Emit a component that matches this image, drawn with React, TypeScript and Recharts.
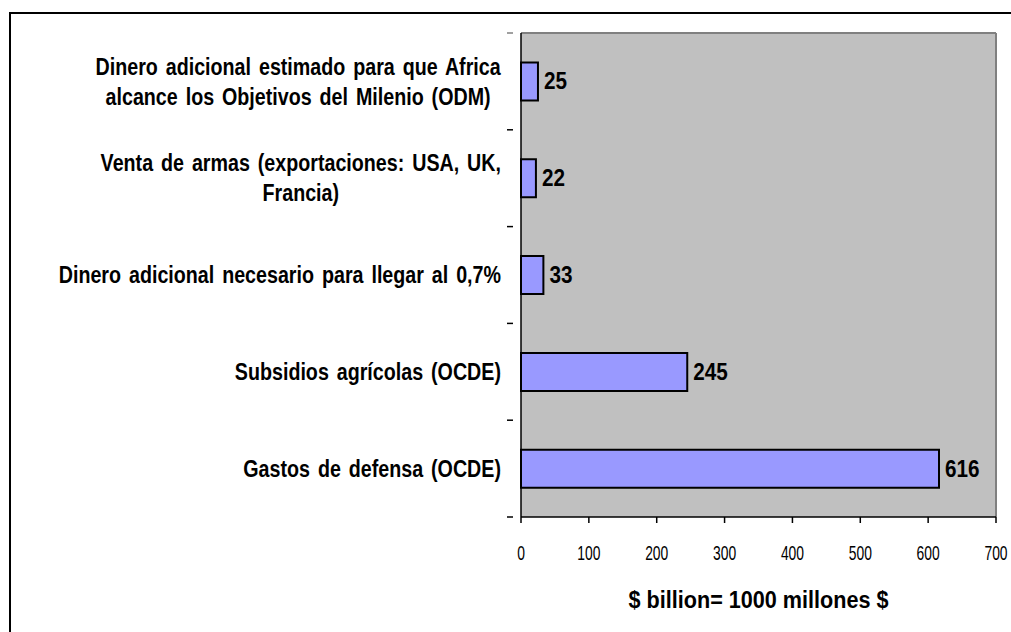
import React from 'react';
import { BarChart, Bar, XAxis, YAxis, CartesianGrid, LabelList } from 'recharts';

const categories = [
  'Dinero adicional estimado para que Africa\nalcance los Objetivos del Milenio (ODM)',
  'Venta de armas (exportaciones: USA, UK,\nFrancia)',
  'Dinero adicional necesario para llegar al 0,7%',
  'Subsidios agrícolas (OCDE)',
  'Gastos de defensa (OCDE)',
];
const values = [25, 22, 33, 245, 616];
const xTicks = [0, 100, 200, 300, 400, 500, 600, 700];
const axisTitle = '$ billion= 1000 millones $';

const data = categories.map((name, i) => ({ name, value: values[i] }));

const FONT = "'Liberation Sans', Arial, sans-serif";

// the original text is tall and condensed, so squeeze it horizontally
const Squeezed = ({ x, y, sx, size, bold, anchor, children, wordSpacing }: any) => (
  <text
    transform={`translate(${x},${y}) scale(${sx},1)`}
    textAnchor={anchor}
    dominantBaseline="central"
    fontFamily={FONT}
    fontSize={size}
    fontWeight={bold ? 'bold' : 'normal'}
    wordSpacing={wordSpacing}
    fill="#000"
  >
    {children}
  </text>
);

// multi-line labels: lines centred on each other, block right-aligned
const MultiLine = ({ lines, right, startY, lineH }: any) => {
  const ref = React.useRef<SVGGElement>(null);
  const [shift, setShift] = React.useState(0);
  React.useLayoutEffect(() => {
    if (!ref.current) return;
    setShift(ref.current.getBBox().width / 2);
  }, []);
  return (
    <g ref={ref}>
      {lines.map((l: string, i: number) => (
        <Squeezed key={i} x={right - shift} y={startY + i * lineH} sx={0.82} size={24} bold anchor="middle" wordSpacing={3}>
          {l}
        </Squeezed>
      ))}
    </g>
  );
};

const CategoryTick = (props: any) => {
  const { x, y, payload, index } = props;
  const lines: string[] = String(payload.value).split('\n');
  const half = payload.offset || 48.4;
  const lineH = 30;
  const startY = y - ((lines.length - 1) * lineH) / 2;
  const right = x - 12;
  return (
    <g>
      <line x1={x - 6} x2={x} y1={y - half} y2={y - half} stroke={index === 0 ? '#808080' : '#000'} strokeWidth={1.5} />
      {index === categories.length - 1 && (
        <line x1={x - 6} x2={x} y1={y + half} y2={y + half} stroke="#000" strokeWidth={1.5} />
      )}
      {lines.length === 1 ? (
        <Squeezed x={right} y={y} sx={0.82} size={24} bold anchor="end" wordSpacing={3}>
          {lines[0]}
        </Squeezed>
      ) : (
        <MultiLine lines={lines} right={right} startY={startY} lineH={lineH} />
      )}
    </g>
  );
};

const NumberTick = (props: any) => {
  const { x, y, payload } = props;
  return (
    <Squeezed x={x} y={y + 30} sx={0.66} size={21} anchor="middle">
      {payload.value}
    </Squeezed>
  );
};

const ValueLabel = (props: any) => {
  const { x, y, width, height, value } = props;
  return (
    <Squeezed x={x + width + 6} y={y + height / 2} sx={0.9} size={23} bold anchor="start">
      {value}
    </Squeezed>
  );
};

const AxisTitle = (props: any) => {
  const { viewBox } = props;
  return (
    <Squeezed x={viewBox.x + viewBox.width / 2} y={viewBox.y + 83} sx={0.9} size={24} bold anchor="middle">
      {axisTitle}
    </Squeezed>
  );
};

export default function App() {
  return (
    <div style={{ position: 'absolute', left: 0, top: 0, width: 1011, height: 632, background: '#fff', overflow: 'hidden' }}>
      <div
        style={{
          position: 'absolute',
          left: 9,
          top: 12,
          width: 1011,
          height: 640,
          borderLeft: '2px solid #000',
          borderTop: '2px solid #000',
        }}
      />
      <BarChart
        width={1011}
        height={632}
        data={data}
        layout="vertical"
        margin={{ top: 33, right: 15, bottom: 15, left: 0 }}
        barCategoryGap="30.5%"
      >
        <CartesianGrid
          fill="#c0c0c0"
          stroke="#808080"
          strokeWidth={2}
          horizontalCoordinatesGenerator={({ offset }: any) => [offset.top]}
          verticalCoordinatesGenerator={({ offset }: any) => [offset.left + offset.width]}
        />
        <XAxis
          type="number"
          domain={[0, 700]}
          ticks={xTicks}
          height={100}
          axisLine={{ stroke: '#000', strokeWidth: 1.5 }}
          tickLine={{ stroke: '#000', strokeWidth: 1.5 }}
          tickSize={6}
          tickMargin={0}
          tick={<NumberTick />}
          label={<AxisTitle />}
        />
        <YAxis
          type="category"
          dataKey="name"
          width={521}
          axisLine={{ stroke: '#000', strokeWidth: 1.5 }}
          tickLine={false}
          tick={<CategoryTick />}
          interval={0}
        />
        <Bar dataKey="value" fill="#9999ff" stroke="#000" strokeWidth={2} isAnimationActive={false}>
          <LabelList dataKey="value" content={<ValueLabel />} />
        </Bar>
      </BarChart>
    </div>
  );
}
